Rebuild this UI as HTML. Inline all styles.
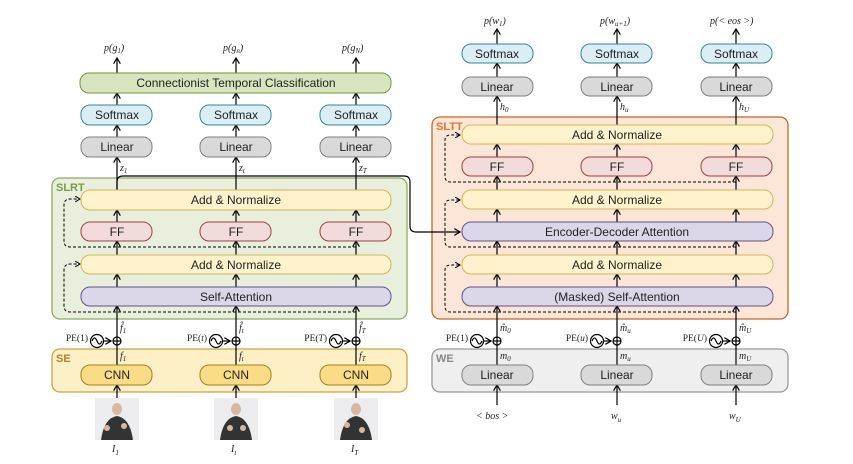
<!DOCTYPE html>
<html><head><meta charset="utf-8"><style>
html,body{margin:0;padding:0;background:#fff;}
svg{display:block;font-family:"Liberation Sans",sans-serif;}
.t{font-size:12px;fill:#222;text-anchor:middle;dominant-baseline:central;}
.m{font-family:"Liberation Serif",serif;font-style:italic;font-size:10px;fill:#222;}
.s{font-size:7px;}
.pe{font-family:"Liberation Serif",serif;font-size:9.5px;fill:#222;text-anchor:end;dominant-baseline:central;}
.ln{stroke:#000;stroke-width:1.2;fill:none;}
.d{stroke:#000;stroke-width:1;fill:none;stroke-dasharray:3,2;}
.lab{font-weight:bold;font-size:11px;}
</style></head><body>
<svg width="853" height="464" viewBox="0 0 853 464">
<defs><marker id="a" markerWidth="6" markerHeight="6" refX="5" refY="3" orient="auto"><path d="M0,0 L5,3 L0,6" fill="none" stroke="#000" stroke-width="1"/></marker></defs>

<rect x="52" y="178" width="355" height="141" rx="8" fill="#e9efdd" stroke="#8fab62" stroke-width="1.3"/>
<text x="56" y="191" class="lab" fill="#7a9a45">SLRT</text>
<rect x="52" y="349" width="355" height="43" rx="8" fill="#fdf0c6" stroke="#c9a24a" stroke-width="1.3"/>
<text x="56" y="362" class="lab" fill="#a8872e">SE</text>
<rect x="432" y="117" width="356" height="202" rx="8" fill="#fbe6d8" stroke="#c0672c" stroke-width="1.3"/>
<text x="436" y="130" class="lab" fill="#e2772e">SLTT</text>
<rect x="432" y="349" width="356" height="43" rx="8" fill="#efefef" stroke="#999" stroke-width="1.3"/>
<text x="436" y="362" class="lab" fill="#888">WE</text>

<g class="ln" marker-end="url(#a)">
<path d="M117,398 V385"/><path d="M236,398 V385"/><path d="M356,398 V385"/>
<path d="M117,365 V306"/><path d="M236,365 V306"/><path d="M356,365 V306"/>
<path d="M117,287 V274"/><path d="M236,287 V274"/><path d="M356,287 V274"/>
<path d="M117,255 V241"/><path d="M236,255 V241"/><path d="M356,255 V241"/>
<path d="M117,222 V210"/><path d="M236,222 V210"/><path d="M356,222 V210"/>
<path d="M117,190 V157"/><path d="M236,190 V157"/><path d="M356,190 V157"/>
<path d="M117,137 V125"/><path d="M236,137 V125"/><path d="M356,137 V125"/>
<path d="M117,105 V93"/><path d="M236,105 V93"/><path d="M356,105 V93"/>
<path d="M117,73 V58"/><path d="M236,73 V58"/><path d="M356,73 V58"/>
</g>
<g class="d" marker-end="url(#a)">
<path d="M356,312 H70 Q64,312 64,306 V270 Q64,264 70,264 H80"/>
<path d="M356,247 H70 Q64,247 64,241 V205 Q64,199 70,199 H80"/>
</g>
<path d="M117,190 V182 Q117,176 123,176 H404 Q410,176 410,182 V226 Q410,232 416,232 H460" class="ln" stroke="#555" marker-end="url(#a)"/>

<rect x="80" y="73" width="311" height="20" rx="9" fill="#d7e4bd" stroke="#76923c"/>
<text x="236" y="83" class="t">Connectionist Temporal Classification</text>
<g fill="#dbeef4" stroke="#31849b">
<rect x="81" y="105" width="71" height="20" rx="9"/><rect x="200" y="105" width="71" height="20" rx="9"/><rect x="320" y="105" width="71" height="20" rx="9"/></g>
<g fill="#d9d9d9" stroke="#7f7f7f">
<rect x="81" y="137" width="71" height="20" rx="9"/><rect x="200" y="137" width="71" height="20" rx="9"/><rect x="320" y="137" width="71" height="20" rx="9"/></g>
<g class="t"><text x="117" y="115">Softmax</text><text x="236" y="115">Softmax</text><text x="356" y="115">Softmax</text>
<text x="117" y="147">Linear</text><text x="236" y="147">Linear</text><text x="356" y="147">Linear</text></g>
<rect x="81" y="190" width="310" height="20" rx="9" fill="#fff2cc" stroke="#d6b656"/>
<text x="236" y="200" class="t">Add &amp; Normalize</text>
<g fill="#f2dcdb" stroke="#a33f3a">
<rect x="81" y="222" width="71" height="19" rx="9"/><rect x="200" y="222" width="71" height="19" rx="9"/><rect x="320" y="222" width="71" height="19" rx="9"/></g>
<g class="t"><text x="117" y="232">FF</text><text x="236" y="232">FF</text><text x="356" y="232">FF</text></g>
<rect x="81" y="255" width="310" height="19" rx="9" fill="#fff2cc" stroke="#d6b656"/>
<text x="236" y="265" class="t">Add &amp; Normalize</text>
<rect x="81" y="287" width="310" height="19" rx="9" fill="#dcd7e8" stroke="#5f4f8a"/>
<text x="236" y="297" class="t">Self-Attention</text>
<g fill="#fbdc86" stroke="#a08020">
<rect x="81" y="365" width="71" height="20" rx="9"/><rect x="200" y="365" width="71" height="20" rx="9"/><rect x="320" y="365" width="71" height="20" rx="9"/></g>
<g class="t"><text x="117" y="375">CNN</text><text x="236" y="375">CNN</text><text x="356" y="375">CNN</text></g>

<g stroke="#000" stroke-width="1.2" fill="none">
<circle cx="97" cy="341" r="6.5"/><path d="M92,341 q2.5,-6 5,0 t5,0"/><path d="M104,341 H111" marker-end="url(#a)"/><circle cx="117" cy="341" r="4"/><path d="M113,341 H121"/>
<circle cx="216" cy="341" r="6.5"/><path d="M211,341 q2.5,-6 5,0 t5,0"/><path d="M223,341 H230" marker-end="url(#a)"/><circle cx="236" cy="341" r="4"/><path d="M232,341 H240"/>
<circle cx="336" cy="341" r="6.5"/><path d="M331,341 q2.5,-6 5,0 t5,0"/><path d="M343,341 H350" marker-end="url(#a)"/><circle cx="356" cy="341" r="4"/><path d="M352,341 H360"/>
</g>
<text x="88" y="339" class="pe">PE(1)</text><text x="207" y="339" class="pe">PE(<tspan font-style="italic">t</tspan>)</text><text x="327" y="339" class="pe">PE(<tspan font-style="italic">T</tspan>)</text>
<g class="m">
<text x="120" y="331">f̂<tspan class="s" dy="2">1</tspan></text><text x="239" y="331">f̂<tspan class="s" dy="2">t</tspan></text><text x="359" y="331">f̂<tspan class="s" dy="2">T</tspan></text>
<text x="120" y="359">f<tspan class="s" dy="2">1</tspan></text><text x="239" y="359">f<tspan class="s" dy="2">t</tspan></text><text x="359" y="359">f<tspan class="s" dy="2">T</tspan></text>
<text x="120" y="171">z<tspan class="s" dy="2">1</tspan></text><text x="239" y="171">z<tspan class="s" dy="2">t</tspan></text><text x="359" y="171">z<tspan class="s" dy="2">T</tspan></text>
<text x="104" y="51">p(g<tspan class="s" dy="2">1</tspan><tspan dy="-2">)</tspan></text><text x="223" y="51">p(g<tspan class="s" dy="2">n</tspan><tspan dy="-2">)</tspan></text><text x="342" y="51">p(g<tspan class="s" dy="2">N</tspan><tspan dy="-2">)</tspan></text>
</g>
<g><rect x="95" y="398" width="44" height="42" fill="#ededef"/><ellipse cx="117" cy="409" rx="5" ry="6" fill="#d8b8a0"/><path d="M101,440 Q104,418 117,416 Q130,418 133,440Z" fill="#333"/><circle cx="107" cy="428" r="3" fill="#d8b8a0"/><circle cx="124" cy="426" r="3" fill="#d8b8a0"/>
<rect x="214" y="398" width="44" height="42" fill="#ededef"/><ellipse cx="236" cy="409" rx="5" ry="6" fill="#d8b8a0"/><path d="M220,440 Q223,418 236,416 Q249,418 252,440Z" fill="#333"/><circle cx="230" cy="428" r="3" fill="#d8b8a0"/><circle cx="243" cy="428" r="3" fill="#d8b8a0"/>
<rect x="334" y="398" width="44" height="42" fill="#ededef"/><ellipse cx="356" cy="409" rx="5" ry="6" fill="#d8b8a0"/><path d="M340,440 Q343,418 356,416 Q369,418 372,440Z" fill="#333"/><circle cx="347" cy="425" r="3" fill="#d8b8a0"/><circle cx="362" cy="430" r="3" fill="#d8b8a0"/></g>
<g class="m" font-size="13"><text x="112" y="452">I<tspan class="s" font-size="9" dy="3">1</tspan></text><text x="231" y="452">I<tspan class="s" font-size="9" dy="3">t</tspan></text><text x="351" y="452">I<tspan class="s" font-size="9" dy="3">T</tspan></text></g>

<g class="ln" marker-end="url(#a)">
<path d="M497,405 V385"/><path d="M617,405 V385"/><path d="M736,405 V385"/>
<path d="M497,365 V306"/><path d="M617,365 V306"/><path d="M736,365 V306"/>
<path d="M497,287 V274"/><path d="M617,287 V274"/><path d="M736,287 V274"/>
<path d="M497,255 V241"/><path d="M617,255 V241"/><path d="M736,255 V241"/>
<path d="M497,222 V209"/><path d="M617,222 V209"/><path d="M736,222 V209"/>
<path d="M497,190 V176"/><path d="M617,190 V176"/><path d="M736,190 V176"/>
<path d="M497,157 V144"/><path d="M617,157 V144"/><path d="M736,157 V144"/>
<path d="M497,125 V96"/><path d="M617,125 V96"/><path d="M736,125 V96"/>
<path d="M497,77 V63"/><path d="M617,77 V63"/><path d="M736,77 V63"/>
<path d="M497,44 V29"/><path d="M617,44 V29"/><path d="M736,44 V29"/>
</g>
<g class="d" marker-end="url(#a)">
<path d="M736,312 H450 Q445,312 445,306 V270 Q445,265 451,265 H460"/>
<path d="M736,247 H450 Q445,247 445,241 V205 Q445,200 451,200 H460"/>
<path d="M736,182 H450 Q445,182 445,176 V140 Q445,135 451,135 H460"/>
</g>
<g fill="#dbeef4" stroke="#31849b">
<rect x="462" y="44" width="71" height="19" rx="9"/><rect x="581" y="44" width="71" height="19" rx="9"/><rect x="701" y="44" width="71" height="19" rx="9"/></g>
<g fill="#d9d9d9" stroke="#7f7f7f">
<rect x="462" y="77" width="71" height="19" rx="9"/><rect x="581" y="77" width="71" height="19" rx="9"/><rect x="701" y="77" width="71" height="19" rx="9"/>
<rect x="462" y="365" width="71" height="20" rx="9"/><rect x="581" y="365" width="71" height="20" rx="9"/><rect x="701" y="365" width="71" height="20" rx="9"/></g>
<g class="t"><text x="497" y="54">Softmax</text><text x="617" y="54">Softmax</text><text x="736" y="54">Softmax</text>
<text x="497" y="87">Linear</text><text x="617" y="87">Linear</text><text x="736" y="87">Linear</text>
<text x="497" y="375">Linear</text><text x="617" y="375">Linear</text><text x="736" y="375">Linear</text></g>
<g fill="#fff2cc" stroke="#d6b656">
<rect x="462" y="125" width="311" height="19" rx="9"/><rect x="462" y="190" width="311" height="19" rx="9"/><rect x="462" y="255" width="311" height="19" rx="9"/></g>
<g fill="#f2dcdb" stroke="#a33f3a">
<rect x="462" y="157" width="71" height="19" rx="9"/><rect x="581" y="157" width="71" height="19" rx="9"/><rect x="701" y="157" width="71" height="19" rx="9"/></g>
<g fill="#dcd7e8" stroke="#5f4f8a">
<rect x="462" y="222" width="311" height="19" rx="9"/><rect x="462" y="287" width="311" height="19" rx="9"/></g>
<g class="t"><text x="617" y="135">Add &amp; Normalize</text><text x="617" y="200">Add &amp; Normalize</text><text x="617" y="265">Add &amp; Normalize</text>
<text x="497" y="167">FF</text><text x="617" y="167">FF</text><text x="736" y="167">FF</text>
<text x="617" y="232">Encoder-Decoder Attention</text><text x="617" y="297">(Masked) Self-Attention</text></g>
<g stroke="#000" stroke-width="1.2" fill="none">
<circle cx="477" cy="341" r="6.5"/><path d="M472,341 q2.5,-6 5,0 t5,0"/><path d="M484,341 H491" marker-end="url(#a)"/><circle cx="497" cy="341" r="4"/><path d="M493,341 H501"/>
<circle cx="597" cy="341" r="6.5"/><path d="M592,341 q2.5,-6 5,0 t5,0"/><path d="M604,341 H611" marker-end="url(#a)"/><circle cx="617" cy="341" r="4"/><path d="M613,341 H621"/>
<circle cx="716" cy="341" r="6.5"/><path d="M711,341 q2.5,-6 5,0 t5,0"/><path d="M723,341 H730" marker-end="url(#a)"/><circle cx="736" cy="341" r="4"/><path d="M732,341 H740"/>
</g>
<text x="468" y="339" class="pe">PE(1)</text><text x="588" y="339" class="pe">PE(<tspan font-style="italic">u</tspan>)</text><text x="707" y="339" class="pe">PE(<tspan font-style="italic">U</tspan>)</text>
<g class="m">
<text x="500" y="331">m̂<tspan class="s" dy="2">0</tspan></text><text x="620" y="331">m̂<tspan class="s" dy="2">u</tspan></text><text x="739" y="331">m̂<tspan class="s" dy="2">U</tspan></text>
<text x="500" y="359">m<tspan class="s" dy="2">0</tspan></text><text x="620" y="359">m<tspan class="s" dy="2">u</tspan></text><text x="739" y="359">m<tspan class="s" dy="2">U</tspan></text>
<text x="500" y="110">h<tspan class="s" dy="2">0</tspan></text><text x="620" y="110">h<tspan class="s" dy="2">u</tspan></text><text x="739" y="110">h<tspan class="s" dy="2">U</tspan></text>
<text x="484" y="24">p(w<tspan class="s" dy="2">1</tspan><tspan dy="-2">)</tspan></text><text x="600" y="24">p(w<tspan class="s" dy="2">u+1</tspan><tspan dy="-2">)</tspan></text><text x="710" y="24">p(&lt; eos &gt;)</text>
</g>
<g class="m" font-size="12"><text x="476" y="419">&lt; bos &gt;</text><text x="611" y="419">w<tspan class="s" font-size="8" dy="3">u</tspan></text><text x="729" y="419">w<tspan class="s" font-size="8" dy="3">U</tspan></text></g>
</svg>
</body></html>
